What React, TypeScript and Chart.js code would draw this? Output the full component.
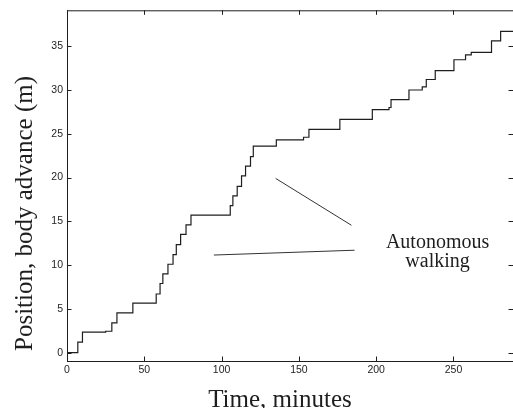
import React, { useEffect, useRef } from "react";
import { Chart, registerables } from "chart.js";

Chart.register(...registerables);

// Step times (minutes) and body advance after each step (m)
const stepTimes = [
  0, 7, 10, 25, 29, 32.3, 42.6, 57.7, 60.2, 62, 65.3, 68.6, 70.7, 73.5, 77, 80.2,
  105.6, 107.3, 110.1, 112.9, 115.5, 118.7, 120.5, 135.4, 153, 156.5, 176.5,
  197.5, 208.3, 209.6, 221.2, 229.8, 232.4, 238.2, 250.3, 257.8, 261.5, 274.6,
  280.5, 288.5,
];
const stepValues = [
  0, 1.2, 2.35, 2.45, 3.4, 4.55, 5.65, 6.7, 7.9, 9.0, 10.1, 11.2, 12.35, 13.5, 14.6, 15.7,
  16.8, 17.9, 19.0, 20.2, 21.3, 22.4, 23.6, 24.3, 24.6, 25.5, 26.65,
  27.75, 28.0, 28.9, 30.0, 30.35, 31.2, 32.2, 33.45, 34.0, 34.3, 35.6,
  36.7, 36.7,
];

// Annotation pointer lines
const pointer1X = [135, 184];
const pointer1Y = [19.9, 14.55];
const pointer2X = [95, 186];
const pointer2Y = [11.15, 11.7];
const annotationLines = ["Autonomous", "walking"];
const annotationX = 239.7;
const annotationY = [11.95, 9.75];

const xTitle = "Time, minutes";
const yTitle = "Position, body advance (m)";

const INK = "#1e1e1e";
const SERIF = '"Liberation Serif", "Times New Roman", serif';
const SANS = '"Liberation Sans", Arial, sans-serif';

const framePlugin = {
  id: "frame",
  afterDraw(chart: any) {
    const { ctx, chartArea: a, scales } = chart;
    const x = scales.x;
    const y = scales.y;
    ctx.save();
    ctx.strokeStyle = INK;
    ctx.lineWidth = 1;
    ctx.strokeRect(a.left + 0.5, a.top + 0.5, a.right - a.left, a.bottom - a.top);
    const tl = 4.5;
    ctx.beginPath();
    x.ticks.forEach((t: any) => {
      const px = Math.round(x.getPixelForValue(t.value)) + 0.5;
      ctx.moveTo(px, a.bottom);
      ctx.lineTo(px, a.bottom - tl);
      ctx.moveTo(px, a.top);
      ctx.lineTo(px, a.top + tl);
    });
    y.ticks.forEach((t: any) => {
      const py = Math.round(y.getPixelForValue(t.value)) + 0.5;
      ctx.moveTo(a.left, py);
      ctx.lineTo(a.left + tl, py);
      ctx.moveTo(a.right, py);
      ctx.lineTo(a.right - tl, py);
    });
    ctx.stroke();

    // annotation text
    ctx.fillStyle = INK;
    ctx.font = `20px ${SERIF}`;
    ctx.textAlign = "center";
    ctx.textBaseline = "alphabetic";
    annotationLines.forEach((s, i) => {
      ctx.fillText(s, x.getPixelForValue(annotationX), y.getPixelForValue(annotationY[i]));
    });

    // axis titles
    ctx.font = `25px ${SERIF}`;
    ctx.fillText(xTitle, 280, 407);
    ctx.save();
    ctx.translate(32, 213.5);
    ctx.rotate(-Math.PI / 2);
    ctx.fillText(yTitle, 0, 0);
    ctx.restore();
    ctx.restore();
  },
};

export default function App() {
  const ref = useRef<HTMLCanvasElement>(null);
  useEffect(() => {
    document.body.style.margin = "0";
    document.body.style.overflow = "hidden";
    const stepData = stepTimes.map((t, i) => ({ x: t, y: stepValues[i] }));
    const p1 = pointer1X.map((t, i) => ({ x: t, y: pointer1Y[i] }));
    const p2 = pointer2X.map((t, i) => ({ x: t, y: pointer2Y[i] }));
    const chart = new Chart(ref.current!, {
      type: "line",
      data: {
        datasets: [
          {
            data: stepData,
            stepped: "before",
            borderColor: INK,
            borderWidth: 1.2,
            pointRadius: 0,
            fill: false,
          },
          { data: p1, borderColor: "#333", borderWidth: 1, pointRadius: 0, fill: false },
          { data: p2, borderColor: "#333", borderWidth: 1, pointRadius: 0, fill: false },
        ],
      },
      options: {
        responsive: false,
        animation: false,
        devicePixelRatio: 1,
        layout: { padding: { top: 10, right: 0, left: 0, bottom: 0 } },
        plugins: { legend: { display: false }, tooltip: { enabled: false } },
        scales: {
          x: {
            type: "linear",
            min: 0,
            max: 288.5,
            grid: { display: false, drawTicks: false },
            border: { display: false },
            ticks: {
              stepSize: 50,
              includeBounds: false,
              padding: 3,
              color: INK,
              font: { family: SANS, size: 10.5 },
              maxRotation: 0,
            },
            afterFit: (s: any) => {
              s.height = 47;
            },
          },
          y: {
            type: "linear",
            min: -0.95,
            max: 39.1,
            grid: { display: false, drawTicks: false },
            border: { display: false },
            ticks: {
              stepSize: 5,
              includeBounds: false,
              padding: 4,
              color: INK,
              font: { family: SANS, size: 10.5 },
            },
            afterFit: (s: any) => {
              s.width = 67;
            },
          },
        },
      } as any,
      plugins: [framePlugin],
    });
    return () => chart.destroy();
  }, []);
  return <canvas ref={ref} width={513} height={408} style={{ display: "block" }} />;
}
